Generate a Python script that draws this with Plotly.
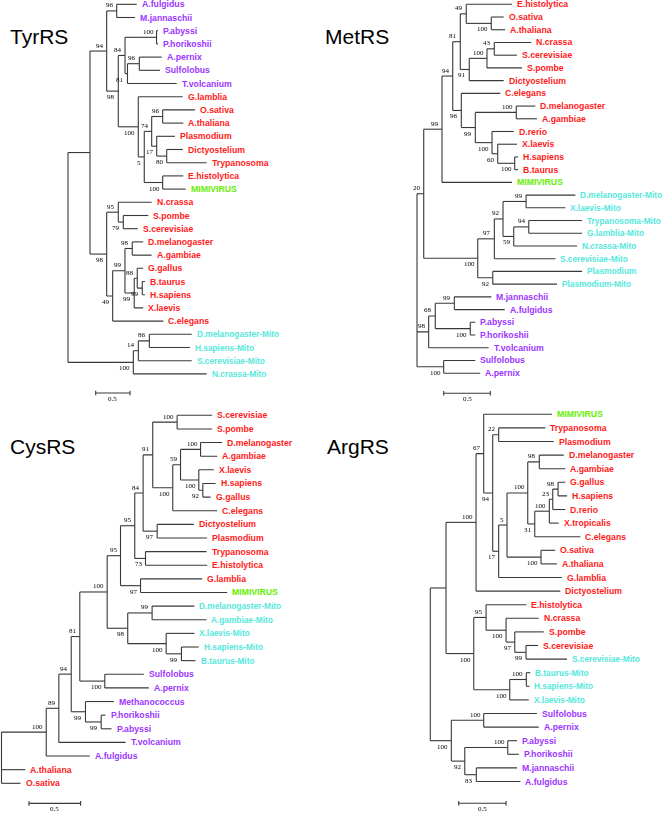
import plotly.graph_objects as go

# ---------------- data: four trees (Newick, branch lengths, bootstrap values) ----------------
PANELS = ["TyrRS", "MetRS", "CysRS", "ArgRS"]

TYR_NEWICK = """
(((
  (A.fulgidus:0.291,M.jannaschii:0.266)96:0.146,
  (((P.abyssi:0.022,P.horikoshii:0.022)100:0.459,
    ((A.pernix:0.326,Sulfolobus:0.301)96:0.172,T.volcanium:0.716)81:0.036)84:0.098,
   (G.lamblia:0.646,
    (((O.sativa:0.470,A.thaliana:0.300)96:0.160,
      (Plasmodium:0.266,(Dictyostelium:0.233,Trypanosoma:0.582)80:0.146)17:0.073)74:0.108,
     (E.histolytica:0.300,MIMIVIRUS:0.335)100:0.268)5:0.087)100:0.291)98:0.169)94:0.243,
 ((N.crassa:0.486,(S.pombe:0.364,S.cerevisiae:0.210)79:0.073)95:0.169,
  (((D.melanogaster:0.160,A.gambiae:0.282)98:0.106,
    ((G.gallus:0.087,(B.taurus:0.039,H.sapiens:0.039)99:0.073)88:0.044,X.laevis:0.131)99:0.135)99:0.179,
   C.elegans:0.737)49:0.087)98:0.243
):0.320,
(((D.melanogaster-Mito:0.617,H.sapiens-Mito:0.592)86:0.160,S.cerevisiae-Mito:0.777)14:0.073,
 N.crassa-Mito:1.068)100:0.951);
"""

MET_NEWICK = """
(((((
    (E.histolytica:0.490,(O.sativa:0.133,A.thaliana:0.150)100:0.268)49:0.064,
    (((N.crassa:0.397,S.cerevisiae:0.243)43:0.078,S.pombe:0.375)100:0.190,Dictyostelium:0.369)91:0.096)81:0.081,
   (C.elegans:0.418,
    ((D.melanogaster:0.204,A.gambiae:0.222)100:0.439,
     (D.rerio:0.233,(X.laevis:0.207,(H.sapiens:0.035,B.taurus:0.035)100:0.182)60:0.061)100:0.179)99:0.150)96:0.092
  )94:0.115,
  MIMIVIRUS:0.750)99:0.196,
 ((((D.melanogaster-Mito:0.528,X.laevis-Mito:0.421)99:0.247,
    ((Trypanosoma-Mito:0.571,G.lamblia-Mito:0.571)94:0.161,N.crassa-Mito:0.678)59:0.115)92:0.093,
   S.cerevisiae-Mito:0.654)97:0.178,
  (Plasmodium:0.957,Plasmodium-Mito:0.689)92:0.161)100:0.579
)20:0.072,
(((M.jannaschii:0.397,A.fulgidus:0.540)99:0.204,(P.abyssi:0.054,P.horikoshii:0.054)100:0.375)68:0.071,
 T.volcanium:0.643)98:0.125,
(Sulfolobus:0.339,A.pernix:0.392)100:0.286);
"""

CYS_NEWICK = """
(((((((((((S.cerevisiae:0.339,S.pombe:0.339)100:0.236,
  (((D.melanogaster:0.210,A.gambiae:0.162)100:0.194,
    (X.laevis:0.145,(H.sapiens:0.123,G.gallus:0.075)92:0.039)100:0.177)59:0.075,
   C.elegans:0.430)100:0.194)91:0.093,
  (Dictyostelium:0.354,Plasmodium:0.484)97:0.136)84:0.081,
  (Trypanosoma:0.591,E.histolytica:0.597)73:0.104)95:0.138,
  (G.lamblia:0.597,MIMIVIRUS:0.839)97:0.194)95:0.129,
  ((D.melanogaster-Mito:0.409,A.gambiae-Mito:0.526)99:0.236,
   (X.laevis-Mito:0.274,(H.sapiens-Mito:0.167,B.taurus-Mito:0.136)99:0.148)100:0.372)98:0.199)100:0.265,
  (Sulfolobus:0.378,A.pernix:0.426)100:0.242)81:0.083,
  (Methanococcus:0.274,(P.horikoshii:0.042,P.abyssi:0.100)99:0.152)99:0.138)94:0.120,
  T.volcanium:0.646)89:0.122,
  A.fulgidus:0.422)100:0.433,
 A.thaliana:0.232,O.sativa:0.184);
"""

ARG_NEWICK = """
((((MIMIVIRUS:0.721,
    ((Trypanosoma:0.492,Plasmodium:0.581)22:0.063,
     ((((D.melanogaster:0.258,A.gambiae:0.275)98:0.122,
        ((((G.gallus:0.077,H.sapiens:0.095)98:0.056,D.rerio:0.133)23:0.036,X.tropicalis:0.099)100:0.154,
         C.elegans:0.482)31:0.074)100:0.219,
       (O.sativa:0.151,A.thaliana:0.169)100:0.359)5:0.088,
      G.lamblia:0.668)17:0.063)94:0.095)67:0.081,
   Dictyostelium:0.890)100:0.317,
  ((E.histolytica:0.426,
    (N.crassa:0.345,(S.pombe:0.306,(S.cerevisiae:0.127,S.cerevisiae-Mito:0.433)99:0.119)97:0.092)100:0.211)95:0.130,
   ((B.taurus-Mito:0.042,H.sapiens-Mito:0.032)100:0.175,X.laevis-Mito:0.201)100:0.380)100:0.293):0.166,
 ((Sulfolobus:0.563,A.pernix:0.581)100:0.342,
  ((P.abyssi:0.098,P.horikoshii:0.116)100:0.454,(M.jannaschii:0.430,A.fulgidus:0.465)83:0.122)92:0.142)100:0.222);
"""

TREES = {"TyrRS": TYR_NEWICK, "MetRS": MET_NEWICK, "CysRS": CYS_NEWICK, "ArgRS": ARG_NEWICK}

ARCHAEA = ["A.fulgidus", "M.jannaschii", "P.abyssi", "P.horikoshii", "A.pernix",
           "Sulfolobus", "T.volcanium", "Methanococcus"]
VIRUS = ["MIMIVIRUS"]
MITO_EXTRA = {"MetRS": ["Plasmodium"]}   # non "-Mito" names placed in the mitochondrial group
SCALE_BAR_LENGTH = 0.5

# ---------------- style ----------------
COLORS = {"euk": "#FF1A1A", "arch": "#9B35FF", "mito": "#55E8DC", "virus": "#66EE00"}
LABEL_SIZE = {"euk": 8.7, "arch": 8.7, "mito": 8.3, "virus": 8.7}
LINE_COLOR = "#383838"
W, H = 664, 813
# pixel mapping of each panel: column, row, root x px, px per unit, first leaf y px, leaf step px
PANEL_STYLE = {
    "TyrRS": dict(col=0, row=0, root=68.0, ppu=68.7, leaf0=4.3, step=13.2,
                  title=(8, 36.7), bar=(0.403, 29.45)),
    "MetRS": dict(col=1, row=0, root=417.0, ppu=93.3, leaf0=4.3, step=12.72,
                  title=(323, 36.7), bar=(0.286, 30.58)),
    "CysRS": dict(col=0, row=1, root=1.5, ppu=103.3, leaf0=415.3, step=13.63,
                  title=(8, 446.7), bar=(0.266, 28.47)),
    "ArgRS": dict(col=1, row=1, root=430.3, ppu=94.7, leaf0=414.3, step=13.6,
                  title=(325, 446.7), bar=(0.300, 28.6)),
}


def parse_newick(s):
    s = "".join(s.split())
    pos = 0

    def node():
        nonlocal pos
        children = []
        if s[pos] == "(":
            pos += 1
            while True:
                children.append(node())
                if s[pos] == ",":
                    pos += 1
                    continue
                if s[pos] == ")":
                    pos += 1
                    break
        start = pos
        while pos < len(s) and s[pos] not in ":,);":
            pos += 1
        name = s[start:pos]
        length = 0.0
        if pos < len(s) and s[pos] == ":":
            pos += 1
            start = pos
            while s[pos] not in ",);":
                pos += 1
            length = float(s[start:pos])
        return {"name": name, "len": length, "children": children}

    return node()


def layout(tree):
    leaves, internals = [], []

    def rec(n, base):
        n["x"] = base + n["len"]
        if not n["children"]:
            n["y"] = len(leaves)
            leaves.append(n)
        else:
            for i, c in enumerate(n["children"]):
                c["last"] = (i == len(n["children"]) - 1)
                rec(c, n["x"])
            n["y"] = (n["children"][0]["y"] + n["children"][-1]["y"]) / 2
            internals.append(n)

    tree["len"] = 0.0
    tree["last"] = None
    rec(tree, 0.0)
    return leaves, internals


def group_of(name, panel):
    if name.endswith("-Mito") or name in MITO_EXTRA.get(panel, []):
        return "mito"
    if name in VIRUS:
        return "virus"
    if name in ARCHAEA:
        return "arch"
    return "euk"


fig = go.Figure()
annotations = []
layout_axes = {}

for k, panel in enumerate(PANELS, start=1):
    st = PANEL_STYLE[panel]
    tree = parse_newick(TREES[panel])
    leaves, internals = layout(tree)
    xa = "x" if k == 1 else f"x{k}"
    ya = "y" if k == 1 else f"y{k}"

    xs, ys = [], []
    for n in internals:
        ch = n["children"]
        xs += [n["x"], n["x"], None]
        ys += [ch[0]["y"], ch[-1]["y"], None]
        for c in ch:
            xs += [n["x"], c["x"], None]
            ys += [c["y"], c["y"], None]
    # scale bar
    bx, by = st["bar"]
    xs += [bx, bx + SCALE_BAR_LENGTH, None, bx, bx, None,
           bx + SCALE_BAR_LENGTH, bx + SCALE_BAR_LENGTH, None]
    ys += [by, by, None, by - 0.17, by + 0.17, None, by - 0.17, by + 0.17, None]

    fig.add_trace(go.Scatter(x=xs, y=ys, mode="lines", xaxis=xa, yaxis=ya,
                             line=dict(color=LINE_COLOR, width=1.1),
                             hoverinfo="skip", showlegend=False, cliponaxis=False))

    for lf in leaves:
        g = group_of(lf["name"], panel)
        annotations.append(dict(
            x=lf["x"], y=lf["y"], xref=xa, yref=ya, text="<b>%s</b>" % lf["name"],
            showarrow=False, xanchor="left", yanchor="middle", xshift=3,
            font=dict(family="Liberation Sans, Arial", size=LABEL_SIZE[g], color=COLORS[g])))
    for n in internals:
        if n["name"] and n["last"] is not None:
            annotations.append(dict(
                x=n["x"], y=n["y"], xref=xa, yref=ya, text=n["name"],
                showarrow=False, xanchor="right", yanchor="middle", xshift=-1.0,
                yshift=(-6 if n["last"] else 5.5),
                font=dict(family="Liberation Serif, Times New Roman", size=7, color="black")))
    annotations.append(dict(
        x=bx + SCALE_BAR_LENGTH / 2, y=by, xref=xa, yref=ya, text=str(SCALE_BAR_LENGTH),
        showarrow=False, xanchor="center", yanchor="middle", yshift=-6,
        font=dict(family="Liberation Serif, Times New Roman", size=7, color="black")))
    tx, ty = st["title"]
    annotations.append(dict(
        x=tx / W, y=1 - ty / H, xref="paper", yref="paper", text=panel, showarrow=False,
        xanchor="left", yanchor="middle",
        font=dict(family="Liberation Sans, Arial", size=21, color="black")))

    # axes: map branch length units / leaf rows onto the panel's pixel area
    a = st["col"] * W / 2
    b = a + W / 2
    c = st["row"] * H / 2
    d = c + H / 2
    layout_axes["xaxis" if k == 1 else f"xaxis{k}"] = dict(
        domain=[a / W, b / W], range=[(a - st["root"]) / st["ppu"], (b - st["root"]) / st["ppu"]],
        visible=False, anchor=ya, fixedrange=True)
    layout_axes["yaxis" if k == 1 else f"yaxis{k}"] = dict(
        domain=[1 - d / H, 1 - c / H],
        range=[(d - st["leaf0"]) / st["step"], (c - st["leaf0"]) / st["step"]],
        visible=False, anchor=xa, fixedrange=True)

fig.update_layout(width=W, height=H, margin=dict(l=0, r=0, t=0, b=0),
                  paper_bgcolor="white", plot_bgcolor="white",
                  annotations=annotations, showlegend=False, **layout_axes)

fig.write_html(
    "out.html",
    config={"displayModeBar": False, "staticPlot": True},
    post_script=("document.body.style.margin='0';document.body.style.padding='0';"
                 "document.body.style.overflow='hidden';"
                 "document.querySelectorAll('g.annotation').forEach(function(g){"
                 "if(/^[0-9.]+$/.test(g.textContent.trim())){g.style.filter='grayscale(1)';}});"))
